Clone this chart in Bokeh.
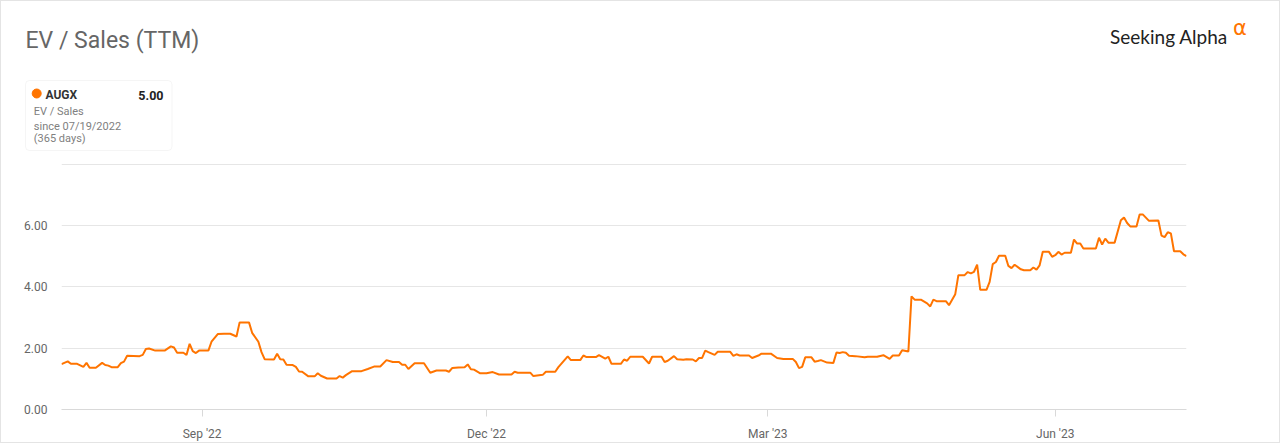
import pandas as pd
from bokeh.plotting import figure
from bokeh.models import (Range1d, FixedTicker, NumeralTickFormatter, BoxAnnotation,
                          ColumnDataSource)
from bokeh.core.properties import value
from bokeh.embed import file_html
from bokeh.resources import INLINE

# ---------------- data ----------------
dates = [
    "2022-07-18", "2022-07-20", "2022-07-21", "2022-07-23", "2022-07-25", "2022-07-26",
    "2022-07-27", "2022-07-29", "2022-07-31", "2022-08-01", "2022-08-02", "2022-08-03",
    "2022-08-05", "2022-08-06", "2022-08-07", "2022-08-08", "2022-08-12", "2022-08-13",
    "2022-08-14", "2022-08-15", "2022-08-17", "2022-08-20", "2022-08-22", "2022-08-23",
    "2022-08-24", "2022-08-26", "2022-08-27", "2022-08-28", "2022-08-29", "2022-08-30",
    "2022-08-31", "2022-09-03", "2022-09-04", "2022-09-06", "2022-09-08", "2022-09-10",
    "2022-09-12", "2022-09-13", "2022-09-16", "2022-09-17", "2022-09-19", "2022-09-20",
    "2022-09-21", "2022-09-24", "2022-09-25", "2022-09-26", "2022-09-27", "2022-09-28",
    "2022-09-30", "2022-10-01", "2022-10-02", "2022-10-03", "2022-10-05", "2022-10-07",
    "2022-10-08", "2022-10-09", "2022-10-11", "2022-10-14", "2022-10-15", "2022-10-16",
    "2022-10-17", "2022-10-19", "2022-10-22", "2022-10-24", "2022-10-26", "2022-10-28",
    "2022-10-30", "2022-11-01", "2022-11-03", "2022-11-04", "2022-11-05", "2022-11-06",
    "2022-11-08", "2022-11-11", "2022-11-13", "2022-11-15", "2022-11-18", "2022-11-19",
    "2022-11-20", "2022-11-22", "2022-11-24", "2022-11-25", "2022-11-26", "2022-11-27",
    "2022-11-29", "2022-12-01", "2022-12-03", "2022-12-05", "2022-12-09", "2022-12-10",
    "2022-12-11", "2022-12-15", "2022-12-16", "2022-12-19", "2022-12-20", "2022-12-23",
    "2022-12-24", "2022-12-27", "2022-12-28", "2022-12-31", "2023-01-01", "2023-01-02",
    "2023-01-05", "2023-01-06", "2023-01-08", "2023-01-09", "2023-01-10", "2023-01-13",
    "2023-01-14", "2023-01-15", "2023-01-16", "2023-01-20", "2023-01-22", "2023-01-23",
    "2023-01-26", "2023-01-27", "2023-01-28", "2023-01-30", "2023-01-31", "2023-02-02",
    "2023-02-03", "2023-02-05", "2023-02-06", "2023-02-07", "2023-02-08", "2023-02-09",
    "2023-02-10", "2023-02-12", "2023-02-13", "2023-02-17", "2023-02-18", "2023-02-19",
    "2023-02-20", "2023-02-23", "2023-02-24", "2023-02-26", "2023-02-27", "2023-03-02",
    "2023-03-04", "2023-03-06", "2023-03-09", "2023-03-10", "2023-03-11", "2023-03-12",
    "2023-03-13", "2023-03-15", "2023-03-16", "2023-03-17", "2023-03-18", "2023-03-20",
    "2023-03-22", "2023-03-23", "2023-03-24", "2023-03-25", "2023-03-26", "2023-03-27",
    "2023-03-29", "2023-04-01", "2023-04-02", "2023-04-05", "2023-04-07", "2023-04-09",
    "2023-04-10", "2023-04-12", "2023-04-13", "2023-04-15", "2023-04-16", "2023-04-17",
    "2023-04-19", "2023-04-21", "2023-04-22", "2023-04-23", "2023-04-24", "2023-04-27",
    "2023-04-28", "2023-04-30", "2023-05-01", "2023-05-03", "2023-05-04", "2023-05-05",
    "2023-05-06", "2023-05-07", "2023-05-08", "2023-05-10", "2023-05-11", "2023-05-12",
    "2023-05-13", "2023-05-14", "2023-05-16", "2023-05-17", "2023-05-18", "2023-05-19",
    "2023-05-21", "2023-05-22", "2023-05-24", "2023-05-25", "2023-05-26", "2023-05-27",
    "2023-05-28", "2023-05-30", "2023-05-31", "2023-06-01", "2023-06-02", "2023-06-03",
    "2023-06-04", "2023-06-06", "2023-06-07", "2023-06-08", "2023-06-09", "2023-06-10",
    "2023-06-14", "2023-06-15", "2023-06-16", "2023-06-17", "2023-06-18", "2023-06-20",
    "2023-06-22", "2023-06-23", "2023-06-24", "2023-06-25", "2023-06-27", "2023-06-28",
    "2023-06-29", "2023-07-01", "2023-07-04", "2023-07-05", "2023-07-06", "2023-07-07",
    "2023-07-08", "2023-07-09", "2023-07-11", "2023-07-12", "2023-07-13",
]
ev_sales = [
    1.48, 1.57, 1.49, 1.49, 1.39, 1.52,
    1.36, 1.36, 1.52, 1.45, 1.43, 1.38,
    1.38, 1.51, 1.56, 1.75, 1.74, 1.78,
    1.97, 1.99, 1.92, 1.92, 2.06, 2.02,
    1.85, 1.85, 1.78, 2.14, 1.90, 1.84,
    1.92, 1.92, 2.21, 2.46, 2.47, 2.47,
    2.38, 2.84, 2.84, 2.50, 2.21, 1.87,
    1.64, 1.63, 1.82, 1.64, 1.63, 1.46,
    1.45, 1.39, 1.24, 1.23, 1.08, 1.08,
    1.18, 1.10, 1.01, 1.01, 1.09, 1.04,
    1.12, 1.25, 1.25, 1.32, 1.40, 1.40,
    1.61, 1.55, 1.55, 1.46, 1.46, 1.32,
    1.51, 1.51, 1.20, 1.27, 1.27, 1.23,
    1.35, 1.37, 1.38, 1.47, 1.31, 1.30,
    1.18, 1.18, 1.22, 1.14, 1.14, 1.23,
    1.20, 1.20, 1.09, 1.13, 1.23, 1.23,
    1.38, 1.73, 1.61, 1.61, 1.76, 1.71,
    1.71, 1.77, 1.66, 1.72, 1.49, 1.49,
    1.63, 1.59, 1.72, 1.72, 1.50, 1.72,
    1.72, 1.55, 1.59, 1.74, 1.64, 1.62,
    1.64, 1.63, 1.57, 1.68, 1.68, 1.92,
    1.87, 1.78, 1.88, 1.88, 1.75, 1.80,
    1.76, 1.76, 1.68, 1.76, 1.82, 1.82,
    1.68, 1.65, 1.65, 1.55, 1.35, 1.39,
    1.70, 1.70, 1.56, 1.58, 1.61, 1.53,
    1.52, 1.86, 1.84, 1.87, 1.85, 1.75,
    1.74, 1.70, 1.72, 1.72, 1.77, 1.65,
    1.76, 1.76, 1.93, 1.89, 3.69, 3.58,
    3.58, 3.46, 3.36, 3.58, 3.53, 3.53,
    3.40, 3.76, 4.38, 4.38, 4.48, 4.44,
    4.49, 4.72, 3.90, 3.90, 4.16, 4.74,
    4.81, 5.01, 5.01, 4.68, 4.61, 4.72,
    4.57, 4.54, 4.54, 4.63, 4.56, 4.70,
    5.14, 5.14, 4.98, 5.03, 5.14, 5.05,
    5.11, 5.11, 5.54, 5.41, 5.41, 5.25,
    5.25, 5.60, 5.38, 5.57, 5.44, 5.44,
    6.17, 6.26, 6.08, 5.97, 5.97, 6.36,
    6.36, 6.15, 6.16, 5.67, 5.62, 5.78,
    5.74, 5.16, 5.16, 5.06, 5.00,
]
x_tick_dates = ["2022-09-01", "2022-12-01", "2023-03-01", "2023-06-01"]
x_tick_labels = ["Sep '22", "Dec '22", "Mar '23", "Jun '23"]
y_ticks = [0, 2, 4, 6, 8]

title_text = "EV / Sales (TTM)"
ticker_name = "AUGX"
last_value = "5.00"
legend_lines = ["EV / Sales", "since 07/19/2022", "(365 days)"]
brand = "Seeking Alpha"
brand_mark = "\u03b1"

ORANGE = "#ff7400"
EDGE = "#e4e4e4"
W = 1280
HDR_H = 156
CHART_H = 443 - HDR_H

# ---------------- header (pixel coordinates, y downward) ----------------
hdr = figure(width=W, height=HDR_H, x_range=Range1d(0, W), y_range=Range1d(HDR_H, 0),
             x_axis_location=None, y_axis_location=None, output_backend="svg",
             toolbar_location=None, min_border=0,
             styles={"box-shadow": f"inset 1px 1px 0 0 {EDGE}, inset -1px 0 0 0 {EDGE}"})
hdr.grid.visible = False
hdr.outline_line_color = None
hdr.border_fill_color = None
hdr.background_fill_color = None

hdr.text(x=[25], y=[40], text=[title_text], text_font=value("Roboto"),
         text_font_size="23px", text_color="#666666", text_baseline="alphabetic")

hdr.add_layout(BoxAnnotation(left=25, right=171.5, top=80, bottom=150, fill_alpha=0,
                             line_color="#dedede", line_width=1, border_radius=4))
hdr.scatter(x=[36.2], y=[93], size=9, fill_color=ORANGE, line_color=ORANGE)
hdr.text(x=[45], y=[94.5], text=[ticker_name], text_font=value("Roboto"), text_font_style="bold",
         text_font_size="12px", text_color="#333333", text_baseline="alphabetic")
hdr.text(x=[163], y=[94.5], text=[last_value], text_font=value("Roboto"), text_font_style="bold",
         text_font_size="12.5px", text_color="#222222", text_baseline="alphabetic",
         text_align="right")
hdr.text(x=[33.3, 33.3, 33.3], y=[110.5, 126, 137.5], text=legend_lines,
         text_font=value("Roboto"), text_font_size="11px", text_color="#808080",
         text_baseline="alphabetic")

hdr.text(x=[1109.5], y=[36], text=[brand], text_font=value("Lato"),
         text_font_size="19px", text_color="#222222", text_baseline="alphabetic")
hdr.text(x=[1232.5], y=[27], text=[brand_mark], text_font=value("DejaVu Sans"),
         text_font_size="21px", text_color=ORANGE, text_baseline="alphabetic")

# ---------------- chart ----------------
dt = pd.to_datetime(dates)
src = ColumnDataSource(dict(date=dt, val=ev_sales))

p = figure(width=W, height=CHART_H, x_axis_type="datetime",
           x_range=Range1d(start=dt[0], end=dt[-1]), y_range=Range1d(0, 8.02),
           output_backend="svg", toolbar_location=None,
           min_border_left=61, min_border_right=94, min_border_top=7, min_border_bottom=32,
           styles={"box-shadow": f"inset 1px -1px 0 0 {EDGE}, inset -1px 0 0 0 {EDGE}"})
p.outline_line_color = None
p.background_fill_color = None
p.border_fill_color = None
p.xgrid.visible = False
p.ygrid.grid_line_color = "#e6e6e6"
p.ygrid.grid_line_width = 1

p.line(x="date", y="val", source=src, line_color=ORANGE, line_width=2)

tick_ms = [int(t) for t in (pd.to_datetime(x_tick_dates).astype("int64") // 10**6)]
p.xaxis.ticker = FixedTicker(ticks=tick_ms)
p.xaxis.major_label_overrides = {ms: lab for ms, lab in zip(tick_ms, x_tick_labels)}
p.xaxis.axis_line_color = "#d9d9d9"
p.xaxis.major_tick_line_color = "#d9d9d9"
p.xaxis.major_tick_out = 7
p.xaxis.major_tick_in = 0
p.xaxis.minor_tick_line_color = None
p.xaxis.major_label_standoff = 10
p.xaxis.major_label_text_color = "#666666"
p.xaxis.major_label_text_font = "Roboto"
p.xaxis.major_label_text_font_size = "12px"

p.yaxis.ticker = FixedTicker(ticks=y_ticks)
p.yaxis.formatter = NumeralTickFormatter(format="0.00")
p.yaxis.major_label_overrides = {y_ticks[-1]: ""}
p.yaxis.axis_line_color = None
p.yaxis.major_tick_line_color = None
p.yaxis.minor_tick_line_color = None
p.yaxis.major_tick_out = 0
p.yaxis.major_label_standoff = 14
p.yaxis.major_label_text_color = "#666666"
p.yaxis.major_label_text_font = "Roboto"
p.yaxis.major_label_text_font_size = "12px"

open("out.html", "w").write(file_html([hdr, p], INLINE))
